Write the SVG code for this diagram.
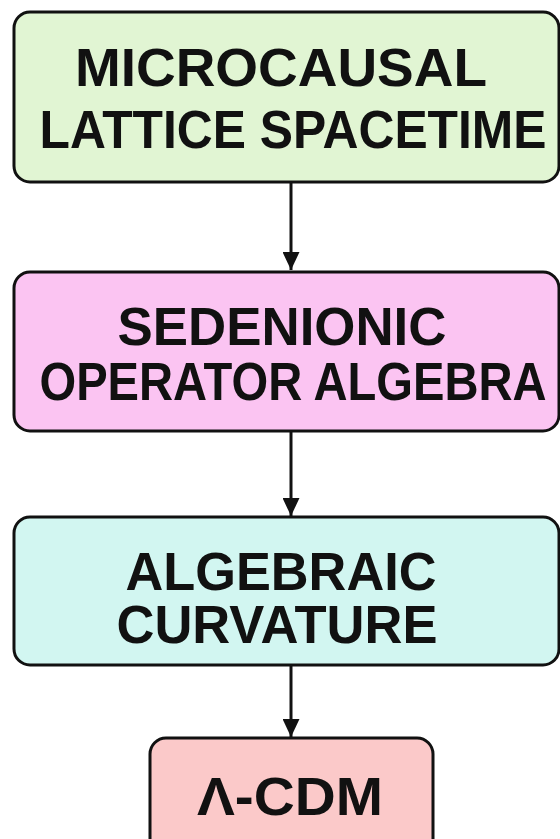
<svg xmlns="http://www.w3.org/2000/svg" width="560" height="839" viewBox="0 0 560 839">
<defs>
<style>
.box{stroke:#111;stroke-width:3}
.t{font-family:"Liberation Sans",Arial,sans-serif;font-weight:bold;font-size:54px;fill:#111;text-anchor:middle}
.c{stroke:#111;stroke-width:3;fill:none}
</style>
<marker id="ah" viewBox="0 0 18 17" refX="18" refY="8.5" markerWidth="18" markerHeight="17" markerUnits="userSpaceOnUse" orient="auto">
<path d="M0,0 L18,8.5 L0,17 Z" fill="#111"/>
</marker>
</defs>
<rect width="560" height="839" fill="#fff"/>
<g id="connectors">
<line class="c" x1="291" y1="183" x2="291" y2="270" marker-end="url(#ah)"/>
<line class="c" x1="291" y1="432" x2="291" y2="516" marker-end="url(#ah)"/>
<line class="c" x1="291" y1="666" x2="291" y2="737" marker-end="url(#ah)"/>
</g>
<g id="n1">
<rect class="box" x="14" y="12" width="545" height="170" rx="16" fill="#e1f5d3"/>
<text class="t" x="281" y="86" textLength="412" lengthAdjust="spacingAndGlyphs">MICROCAUSAL</text>
<text class="t" x="293" y="148" textLength="507" lengthAdjust="spacingAndGlyphs">LATTICE SPACETIME</text>
</g>
<g id="n2">
<rect class="box" x="14" y="272" width="545" height="159" rx="16" fill="#fbc4f2"/>
<text class="t" x="282" y="345" textLength="329" lengthAdjust="spacingAndGlyphs">SEDENIONIC</text>
<text class="t" x="293" y="400" textLength="507" lengthAdjust="spacingAndGlyphs">OPERATOR ALGEBRA</text>
</g>
<g id="n3">
<rect class="box" x="14" y="517" width="545" height="148" rx="16" fill="#d2f6f1"/>
<text class="t" x="281" y="590" textLength="311" lengthAdjust="spacingAndGlyphs">ALGEBRAIC</text>
<text class="t" x="277" y="643" textLength="321" lengthAdjust="spacingAndGlyphs">CURVATURE</text>
</g>
<g id="n4">
<rect class="box" x="150" y="738" width="283" height="120" rx="16" fill="#fbc9c9"/>
<text class="t" x="290" y="815" textLength="186" lengthAdjust="spacingAndGlyphs">Λ-CDM</text>
</g>
</svg>
